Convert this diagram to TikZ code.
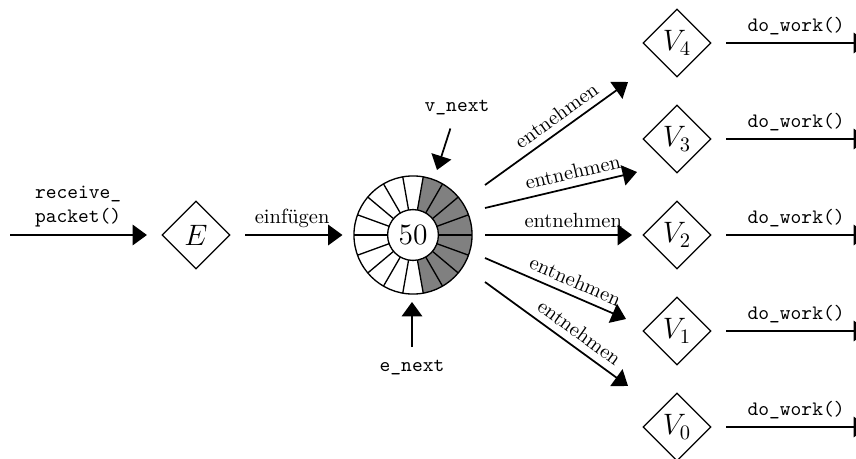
\documentclass[tikz,border=0pt]{standalone}
\usetikzlibrary{arrows.meta,shapes.geometric}
\begin{document}
\begin{tikzpicture}[x=0.4878pt,y=-0.4878pt,
  arr/.style={line width=0.85pt,-{Triangle[length=7pt,width=10pt]}},
  dia/.style={diamond,draw,line width=0.65pt,inner sep=0pt,minimum width=33.2pt,minimum height=33.2pt,font=\Large},
  code/.style={font=\ttfamily},
  ringpart/.style={line width=0.65pt}]
\useasboundingbox (0,0) rectangle (856,459);

% entry
\node[dia] (E) at (196,235) {$E$};
\coordinate (in) at (10,235);
\draw[arr, shorten >=7pt] (in) -- node[above, pos=0.45, align=left, code] {receive\_\\packet()} (E);

% ring buffer
\node[circle, minimum size=57.6pt, inner sep=0pt] (ring) at (413,235) {};
\begin{scope}[shift={(ring.center)}, x=1pt, y=1pt, ringpart]
  \fill[white] (0,0) circle[radius=28.8];
  \fill[black!50] (-80:28.8) arc[start angle=-80,end angle=80,radius=28.8] -- (80:12.4) arc[start angle=80,end angle=-80,radius=12.4] -- cycle;
  \foreach \a in {0,20,...,340} \draw (\a:12.4) -- (\a:28.8);
  \draw (0,0) circle[radius=28.8];
  \draw[fill=white] (0,0) circle[radius=12.4];
\end{scope}
\node[font=\Large, inner sep=0pt] (fifty) at (ring.center) {50};

\draw[arr, shorten <=7pt, shorten >=5.4pt] (E) -- node[above] {einfügen} (ring);

% pointers
\node[code] (vn) at (457,108) {v\_next};
\coordinate (vt) at (437,170);
\draw[arr, shorten <=3pt] (vn) -- (vt);
\node[code] (en) at (412,368) {e\_next};
\coordinate (et) at (412,302);
\draw[arr, shorten <=3pt] (en) -- (et);

% workers
\node[dia] (V4) at (677,43) {$V_4$};
\node[dia] (V3) at (677,139) {$V_3$};
\node[dia] (V2) at (677,235) {$V_2$};
\node[dia] (V1) at (677,331) {$V_1$};
\node[dia] (V0) at (677,427) {$V_0$};

\coordinate (s4) at (485,185); \coordinate (t4) at (628,82);
\coordinate (s3) at (485,208); \coordinate (t3) at (637,172);
\coordinate (s2) at (485,235); \coordinate (t2) at (632,235);
\coordinate (s1) at (485,258); \coordinate (t1) at (626,319);
\coordinate (s0) at (485,282); \coordinate (t0) at (628,386);

\draw[arr] (s4) -- node[above, sloped, pos=0.56] {entnehmen} (t4);
\draw[arr] (s3) -- node[above, sloped, pos=0.6] {entnehmen} (t3);
\draw[arr] (s2) -- node[above, pos=0.6] {entnehmen} (t2);
\draw[arr] (s1) -- node[above, sloped, pos=0.6] {entnehmen} (t1);
\draw[arr] (s0) -- node[above, sloped, pos=0.6] {entnehmen} (t0);

\foreach \i/\y in {4/43,3/139,2/235,1/331,0/427}{
  \coordinate (w\i) at (868,\y);
  \draw[arr, shorten <=7pt] (V\i) -- node[above, pos=0.54, code] {do\_work()} (w\i);
}
\end{tikzpicture}
\end{document}
